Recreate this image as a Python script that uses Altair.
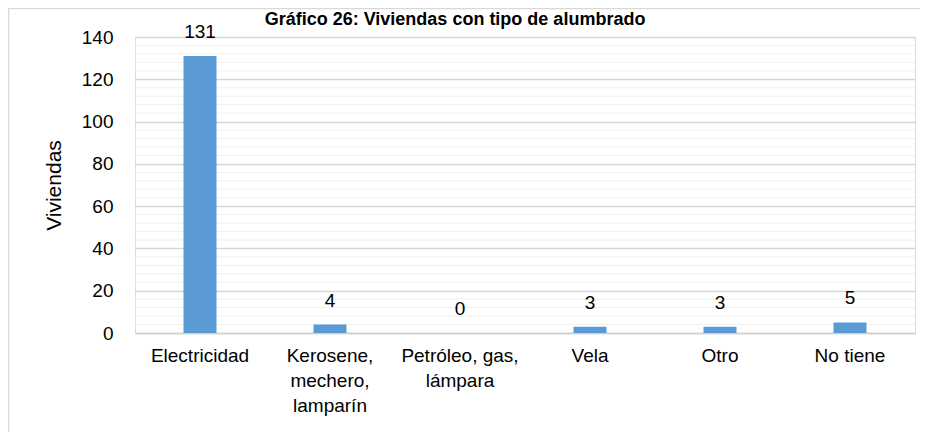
import altair as alt
import pandas as pd

categories = ["Electricidad", "Kerosene,\nmechero,\nlamparín", "Petróleo, gas,\nlámpara", "Vela", "Otro", "No tiene"]
values = [131, 4, 0, 3, 3, 5]
major_ticks = [0, 20, 40, 60, 80, 100, 120, 140]
minor_ticks = [v for v in range(0, 141, 4) if v % 20 != 0]
title_text = "Gráfico 26: Viviendas con tipo de alumbrado"

df = pd.DataFrame({"cat": categories, "val": values})
minor_df = pd.DataFrame({"val": minor_ticks})

FONT = "Liberation Sans"
yscale = alt.Scale(domain=[0, 140], nice=False)
xsort = categories

minor = alt.Chart(minor_df).mark_rule(color="#f0f0f0", strokeWidth=1).encode(
    y=alt.Y("val:Q", scale=yscale, axis=None)
)

bars = alt.Chart(df).mark_bar(color="#5B9BD5", size=33).encode(
    x=alt.X("cat:N", sort=xsort, title=None,
            scale=alt.Scale(paddingInner=0, paddingOuter=0),
            axis=alt.Axis(labelExpr="split(datum.label, '\\n')", labelAngle=0,
                          labelFont=FONT, labelFontSize=19, labelColor="#000000",
                          labelLineHeight=25, labelPadding=13, ticks=False,
                          domainColor="#d0d0d0", domainWidth=1.5, labelBaseline="top")),
    y=alt.Y("val:Q", scale=yscale, title="Viviendas",
            axis=alt.Axis(values=major_ticks, grid=True, gridColor="#d6d6d6", gridWidth=1.3,
                          ticks=False, domain=False, labelFont=FONT, labelFontSize=19,
                          labelColor="#000000", labelPadding=22,
                          titleFont=FONT, titleFontSize=21, titleFontWeight="normal",
                          titleColor="#000000", titlePadding=17))
)

labels = alt.Chart(df).mark_text(font=FONT, fontSize=19, color="#000000",
                                 baseline="bottom", dy=-14).encode(
    x=alt.X("cat:N", sort=xsort),
    y=alt.Y("val:Q", scale=yscale, axis=None),
    text=alt.Text("val:Q")
)

border = alt.Chart(pd.DataFrame({"a": [0]})).mark_rect(
    filled=False, stroke="#d9d9d9", strokeWidth=1.5
).encode(x=alt.value(-126.5), x2=alt.value(900), y=alt.value(-28.5), y2=alt.value(500))

title = alt.Chart(pd.DataFrame({"t": [title_text]})).mark_text(
    font="Liberation Sans", fontSize=18, fontWeight="bold", color="#000000",
    baseline="alphabetic", align="center"
).encode(x=alt.value(320), y=alt.value(-12), text="t:N")

chart = alt.layer(border, minor, bars, labels, title).resolve_axis(
    y="independent"
).properties(
    width=780, height=296,
    autosize=alt.AutoSizeParams(type="none"),
    padding={"left": 127, "top": 29, "right": 5, "bottom": 99},
).configure_view(stroke=None).configure(background="#ffffff")

chart.save("out.html", embed_options={"renderer": "svg", "actions": False})
